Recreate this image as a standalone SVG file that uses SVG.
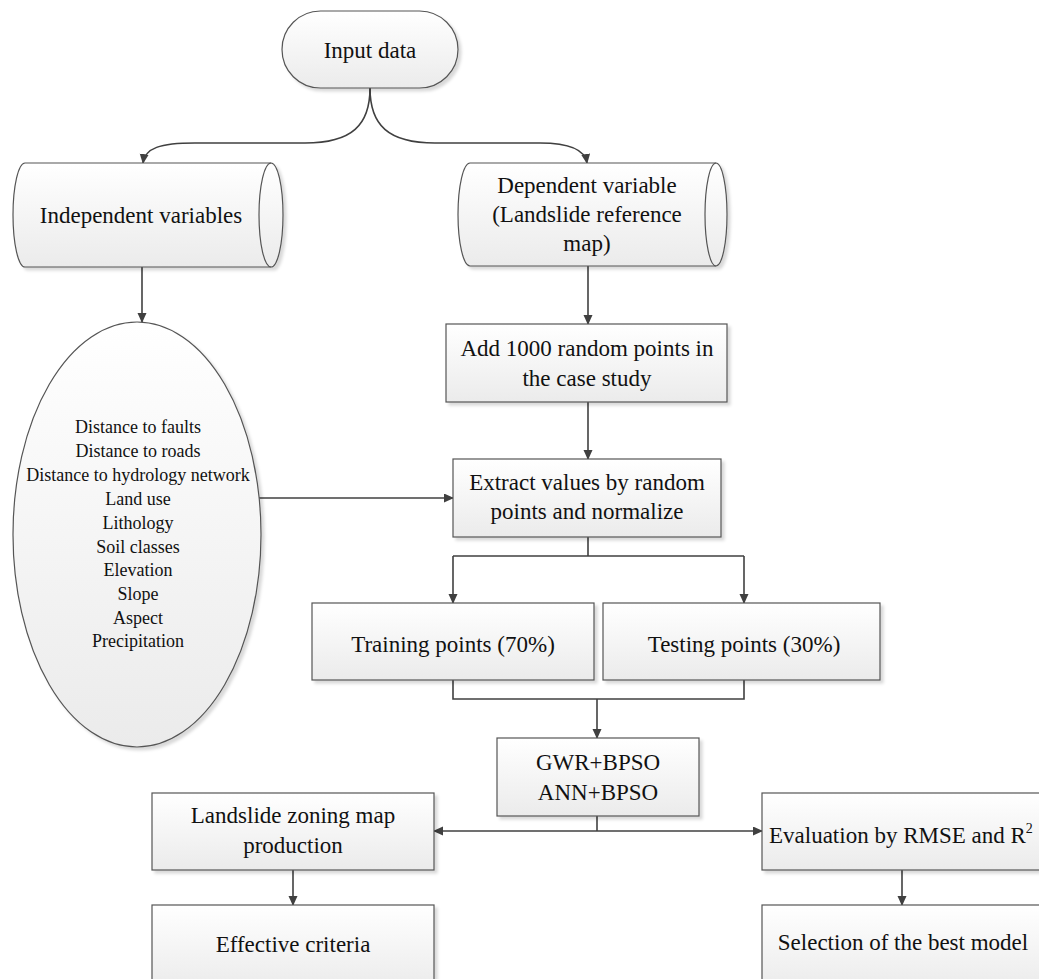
<svg xmlns="http://www.w3.org/2000/svg" width="1039" height="979" viewBox="0 0 1039 979">
<style>
.n{fill:url(#g);stroke:#555;stroke-width:1.2;filter:url(#sh)}
.t{font-family:"Liberation Serif","Times New Roman",serif;font-size:23px;fill:#111;text-anchor:middle}
.s{font-family:"Liberation Serif","Times New Roman",serif;font-size:18px;fill:#111;text-anchor:middle}
.c{fill:none;stroke:#404040;stroke-width:1.6}
.ca{fill:none;stroke:#404040;stroke-width:1.6;marker-end:url(#ah)}
</style>
<defs>
<linearGradient id="g" x1="0" y1="0" x2="0" y2="1">
<stop offset="0" stop-color="#ffffff"/>
<stop offset="1" stop-color="#ebebeb"/>
</linearGradient>
<filter id="sh" x="-10%" y="-10%" width="130%" height="130%">
<feDropShadow dx="3" dy="3" stdDeviation="1.5" flood-color="#000" flood-opacity="0.15"/>
</filter>
<marker id="ah" markerWidth="10" markerHeight="10" refX="9" refY="4.5" orient="auto" markerUnits="userSpaceOnUse">
<path d="M0,0 L10,4.5 L0,9 Z" fill="#404040"/>
</marker>
</defs>
<rect width="1039" height="979" fill="#fff"/>

<g id="connectors">
<path class="ca" d="M370,88 C370,125 352,143 305,143 L195,143 C160,143 145,148 143,163"/>
<path class="ca" d="M370,88 C370,125 388,143 435,143 L540,143 C570,143 585,150 587,163"/>
<path class="ca" d="M142,267 L142,322"/>
<path class="ca" d="M588,266 L588,324"/>
<path class="ca" d="M588,402 L588,459"/>
<path class="ca" d="M259,498 L453,498"/>
<path class="c" d="M588,537 L588,556 M453,556 L744,556"/>
<path class="ca" d="M453,556 L453,603"/>
<path class="ca" d="M744,556 L744,603"/>
<path class="c" d="M453,680 L453,699 L744,699 L744,680"/>
<path class="ca" d="M597,699 L597,738"/>
<path class="c" d="M597,816 L597,831"/>
<path class="ca" d="M597,831 L434,831"/>
<path class="ca" d="M597,831 L762,831"/>
<path class="ca" d="M293,870 L293,905"/>
<path class="ca" d="M902,870 L902,905"/>
</g>

<g id="input">
<rect class="n" x="282" y="11" width="176" height="77" rx="38.5"/>
<text class="t" x="370" y="58">Input data</text>
</g>

<g id="independent">
<path class="n" d="M25,163 L271,163 A12,52 0 0 1 271,267 L25,267 A12,52 0 0 1 25,163 Z"/>
<path d="M271,163 A12,52 0 0 0 271,267" fill="none" stroke="#555" stroke-width="1.2"/>
<text class="t" x="141" y="223">Independent variables</text>
</g>

<g id="dependent">
<path class="n" d="M470,163 L716,163 A11,51.5 0 0 1 716,266 L470,266 A12,51.5 0 0 1 470,163 Z"/>
<path d="M716,163 A11,51.5 0 0 0 716,266" fill="none" stroke="#555" stroke-width="1.2"/>
<text class="t" x="587" y="193">Dependent variable</text>
<text class="t" x="587" y="222">(Landslide reference</text>
<text class="t" x="587" y="251">map)</text>
</g>

<g id="factors">
<ellipse class="n" cx="137" cy="534.5" rx="124" ry="212.5"/>
<text class="s" x="138" y="433">Distance to faults</text>
<text class="s" x="138" y="457">Distance to roads</text>
<text class="s" x="138" y="481">Distance to hydrology network</text>
<text class="s" x="138" y="505">Land use</text>
<text class="s" x="138" y="529">Lithology</text>
<text class="s" x="138" y="553">Soil classes</text>
<text class="s" x="138" y="576">Elevation</text>
<text class="s" x="138" y="600">Slope</text>
<text class="s" x="138" y="624">Aspect</text>
<text class="s" x="138" y="647">Precipitation</text>
</g>

<g id="add">
<rect class="n" x="446" y="324" width="281" height="78"/>
<text class="t" x="587" y="356">Add 1000 random points in</text>
<text class="t" x="587" y="386">the case study</text>
</g>

<g id="extract">
<rect class="n" x="453" y="459" width="268" height="78"/>
<text class="t" x="587" y="490">Extract values by random</text>
<text class="t" x="587" y="519">points and normalize</text>
</g>

<g id="training">
<rect class="n" x="312" y="603" width="282" height="77"/>
<text class="t" x="453" y="652">Training points (70%)</text>
</g>

<g id="testing">
<rect class="n" x="603" y="603" width="277" height="77"/>
<text class="t" x="744" y="652">Testing points (30%)</text>
</g>

<g id="models">
<rect class="n" x="497" y="738" width="202" height="78"/>
<text class="t" x="598" y="770">GWR+BPSO</text>
<text class="t" x="598" y="800">ANN+BPSO</text>
</g>

<g id="zoning">
<rect class="n" x="152" y="793" width="282" height="77"/>
<text class="t" x="293" y="823">Landslide zoning map</text>
<text class="t" x="293" y="853">production</text>
</g>

<g id="evaluation">
<rect class="n" x="762" y="793" width="278" height="77"/>
<text class="t" x="769" y="843" style="text-anchor:start">Evaluation by RMSE and R<tspan font-size="14" dy="-10">2</tspan></text>
</g>

<g id="effective">
<rect class="n" x="152" y="905" width="282" height="85"/>
<text class="t" x="293" y="952">Effective criteria</text>
</g>

<g id="selection">
<rect class="n" x="762" y="905" width="278" height="85"/>
<text class="t" x="903" y="950">Selection of the best model</text>
</g>
</svg>
